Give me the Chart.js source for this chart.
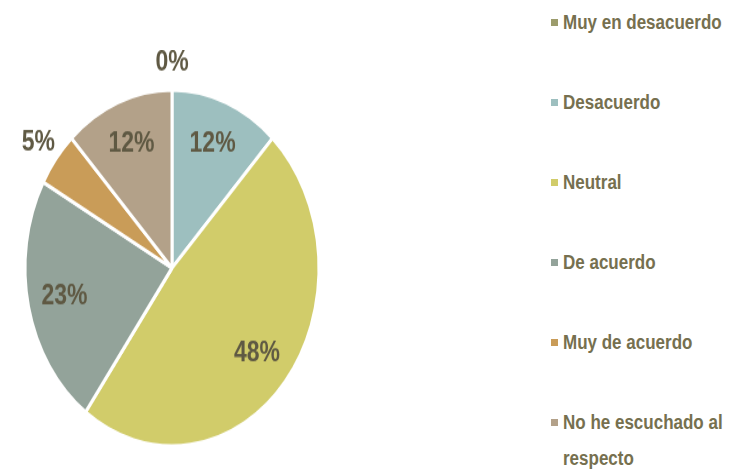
<!DOCTYPE html>
<html>
<head>
<meta charset="utf-8">
<script src="https://cdn.jsdelivr.net/npm/chart.js@4/dist/chart.umd.min.js"></script>
<style>
  body { margin: 0; background: #fff; width: 729px; height: 474px; overflow: hidden; position: relative; }
  #pieChart { position: absolute; left: 2px; top: 50px; transform: scaleY(1.211); transform-origin: 0 0; }
  #legend { position: absolute; left: 551px; top: 4px; list-style: none; margin: 0; padding: 0;
            font-family: 'Liberation Sans', sans-serif; font-weight: bold; font-size: 20px; color: #76704f; }
  #legend li { position: relative; padding-left: 12px; line-height: 36px; margin-bottom: 44px; }
  #legend li span { position: absolute; left: 0; top: 15px; width: 7px; height: 7px; }
  #legend li div { width: 198px; transform: scaleX(0.85); transform-origin: 0 0; }
</style>
</head>
<body>
<canvas id="pieChart" width="340" height="360"></canvas>
<ul id="legend"></ul>
<script>
const labels = ['Muy en desacuerdo', 'Desacuerdo', 'Neutral', 'De acuerdo', 'Muy de acuerdo', 'No he escuchado al respecto'];
const values = [0, 12, 48, 23, 5, 12];
const colors = ['#9c9c6c', '#9dbfbf', '#d1cc6a', '#93a39a', '#c99c58', '#b3a189'];

// percent labels: inside for big slices, outside for the small ones
const pctLabels = {
    id: 'pctLabels',
    afterDatasetsDraw(chart) {
        const ctx = chart.ctx;
        const meta = chart.getDatasetMeta(0);
        ctx.save();
        ctx.font = 'bold 23px "Liberation Sans", sans-serif';
        ctx.fillStyle = '#5f5943';
        ctx.textAlign = 'center';
        ctx.textBaseline = 'middle';
        meta.data.forEach((arc, i) => {
            const p = arc.getProps(['x', 'y', 'startAngle', 'endAngle', 'outerRadius'], true);
            const mid = (p.startAngle + p.endAngle) / 2;
            const r = values[i] < 6 ? p.outerRadius * 1.15 : p.outerRadius * 0.75;
            ctx.fillText(values[i] + '%', p.x + Math.cos(mid) * r, p.y + Math.sin(mid) * r);
        });
        ctx.restore();
    }
};

const pieCtx = document.getElementById('pieChart').getContext('2d');
const pieChart = new Chart(pieCtx, {
    type: 'pie',
    data: {
        labels: labels,
        datasets: [{
            data: values,
            backgroundColor: colors,
            borderColor: '#ffffff',
            borderWidth: 3,
            radius: 147
        }]
    },
    options: {
        responsive: false,
        animation: false,
        plugins: {
            legend: { display: false },
            tooltip: { enabled: false }
        }
    },
    plugins: [pctLabels]
});

const legendEl = document.getElementById('legend');
labels.forEach((lab, i) => {
    const li = document.createElement('li');
    const box = document.createElement('span');
    box.style.background = colors[i];
    const txt = document.createElement('div');
    txt.textContent = lab;
    li.appendChild(box);
    li.appendChild(txt);
    legendEl.appendChild(li);
});
</script>
</body>
</html>
